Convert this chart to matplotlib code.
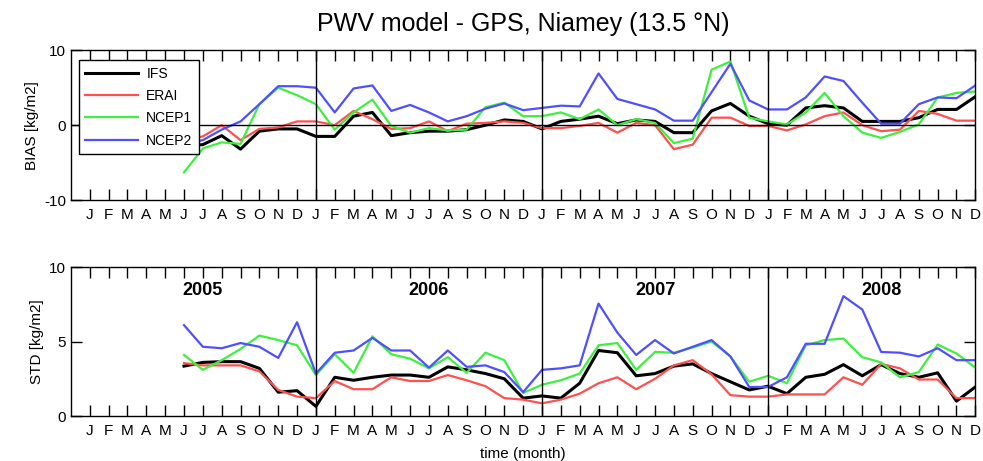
import matplotlib.pyplot as plt
import numpy as np

# months: 1 = Jan 2005 ... 48 = Dec 2008, data starts June 2005
months = np.arange(6, 49)
month_labels = list("JFMAMJJASOND") * 4
years = ["2005", "2006", "2007", "2008"]

bias_ifs = [-2.8, -2.6, -1.4, -3.2, -0.8, -0.5, -0.5, -1.5, -1.5, 1.2, 1.7, -1.4, -1.0, -0.8, -0.8, -0.6, 0.0,
            0.7, 0.5, -0.5, 0.5, 0.8, 1.2, 0.2, 0.7, 0.5, -1.0, -1.0, 1.9, 2.9, 1.2,
            0.2, 0.0, 2.3, 2.6, 2.3, 0.5, 0.5, 0.5, 1.0, 2.1, 2.1, 3.8]
bias_erai = [-2.0, -1.5, 0.0, -2.0, -0.5, -0.3, 0.5, 0.5, 0.0, 1.9, 0.8, -0.5, -0.4, 0.5, -0.8, 0.2, 0.3,
             0.5, 0.3, -0.4, -0.4, -0.1, 0.3, -1.0, 0.3, 0.0, -3.2, -2.6, 1.0, 1.0, -0.1,
             -0.1, -0.7, 0.1, 1.2, 1.7, 0.0, -0.8, -0.6, 1.9, 1.5, 0.6, 0.6]
bias_ncep1 = [-6.3, -3.1, -2.3, -2.5, 2.8, 5.0, 4.0, 2.8, -0.6, 1.7, 3.4, -0.1, -1.0, -0.4, -0.7, -0.6, 2.4,
              3.0, 1.2, 1.2, 1.7, 0.8, 2.1, 0.0, 0.8, 0.3, -2.4, -1.8, 7.4, 8.5, 1.0,
              0.5, 0.1, 1.7, 4.3, 1.2, -1.0, -1.7, -0.9, 0.1, 3.7, 4.3, 4.5]
bias_ncep2 = [-2.5, -2.0, -0.6, 0.5, 2.8, 5.2, 5.2, 5.0, 1.7, 4.9, 5.3, 1.9, 2.7, 1.7, 0.5, 1.2, 2.2,
              2.9, 2.0, 2.3, 2.6, 2.5, 6.9, 3.5, 2.8, 2.1, 0.6, 0.6, 4.4, 8.2, 3.3,
              2.1, 2.1, 3.7, 6.5, 5.9, 3.0, 0.2, 0.2, 2.8, 3.7, 3.6, 5.3]

std_ifs = [3.35, 3.6, 3.65, 3.65, 3.2, 1.6, 1.7, 0.65, 2.6, 2.4, 2.6, 2.75, 2.75, 2.6, 3.3, 3.1, 2.85,
           2.5, 1.2, 1.35, 1.2, 2.2, 4.4, 4.25, 2.7, 2.85, 3.35, 3.5, 2.85, 2.3, 1.75,
           2.0, 1.5, 2.6, 2.8, 3.45, 2.7, 3.45, 2.85, 2.6, 2.9, 1.0, 1.95]
std_erai = [3.55, 3.4, 3.4, 3.4, 3.0, 1.75, 1.3, 1.2, 2.35, 1.8, 1.8, 2.6, 2.35, 2.35, 2.75, 2.4, 2.0,
            1.2, 1.1, 0.85, 1.1, 1.5, 2.2, 2.6, 1.8, 2.5, 3.4, 3.75, 2.8, 1.4, 1.3,
            1.3, 1.45, 1.45, 1.45, 2.6, 2.1, 3.5, 3.2, 2.45, 2.45, 1.2, 1.2]
std_ncep1 = [4.1, 3.1, 3.75, 4.5, 5.4, 5.1, 4.75, 2.75, 4.15, 2.9, 5.35, 4.15, 3.85, 3.2, 3.95, 2.9, 4.25,
             3.75, 1.55, 2.1, 2.4, 2.85, 4.75, 4.9, 3.1, 4.3, 4.25, 4.6, 5.0, 4.0, 2.3,
             2.7, 2.2, 4.75, 5.1, 5.2, 3.95, 3.6, 2.6, 2.95, 4.8, 4.2, 3.25]
std_ncep2 = [6.1, 4.65, 4.55, 4.9, 4.65, 3.9, 6.3, 2.85, 4.25, 4.4, 5.25, 4.4, 4.4, 3.25, 4.4, 3.3, 3.4,
             2.95, 1.6, 3.1, 3.2, 3.4, 7.55, 5.6, 4.1, 5.1, 4.2, 4.65, 5.1, 4.0, 1.95,
             1.95, 2.6, 4.85, 4.85, 8.05, 7.15, 4.3, 4.25, 4.0, 4.55, 3.75, 3.75]

names = ["IFS", "ERAI", "NCEP1", "NCEP2"]
colors = ["black", "#ff5050", "#3fef3f", "#4f4fff"]
widths = [2.2, 1.6, 1.6, 1.6]

plt.rcParams['font.family'] = ['Liberation Sans', 'DejaVu Sans']
plt.rcParams['axes.unicode_minus'] = False

fig = plt.figure(figsize=(9.83, 4.61), dpi=100)
ax1 = fig.add_axes([0.0722, 0.566, 0.920, 0.325])
ax2 = fig.add_axes([0.0722, 0.0976, 0.920, 0.323])


def style(ax, ylim, yticks, ylabel):
    ax.set_xlim(0, 48)
    ax.set_ylim(ylim)
    ax.set_xticks(np.arange(1, 49))
    ax.set_xticklabels(month_labels, fontsize=11)
    ax.set_yticks(yticks)
    ax.tick_params(axis='both', direction='in', length=8, width=1, labelsize=11,
                   top=True, right=True)
    ax.tick_params(axis='x', pad=6)
    ax.set_ylabel(ylabel, fontsize=11, labelpad=4)
    for x in [13, 25, 37]:
        ax.axvline(x, color='black', lw=1)
    for s in ax.spines.values():
        s.set_linewidth(1)


bias = [bias_ifs, bias_erai, bias_ncep1, bias_ncep2]
std = [std_ifs, std_erai, std_ncep1, std_ncep2]

for name, vals, c, w in zip(names, bias, colors, widths):
    ax1.plot(months, vals, color=c, lw=w, label=name)
ax1.axhline(0, color='black', lw=1)
style(ax1, (-10, 10), [-10, 0, 10], "BIAS [kg/m2]")
leg = ax1.legend(loc='upper left', bbox_to_anchor=(0.0088, 0.933), borderaxespad=0,
                 fontsize=10, fancybox=False, edgecolor='black', framealpha=1,
                 handlelength=3.8, handletextpad=0.6, borderpad=0.45, labelspacing=0.6)
leg.get_frame().set_linewidth(1)
leg.set_zorder(5)

for name, vals, c, w in zip(names, std, colors, widths):
    ax2.plot(months, vals, color=c, lw=w)
style(ax2, (0, 10), [0, 5, 10], "STD [kg/m2]")
for k, yr in enumerate(years):
    ax2.text(7 + 12 * k, 8.4, yr, ha='center', va='center', fontsize=13, fontweight='bold')
ax2.set_xlabel("time (month)", fontsize=11, labelpad=6)

fig.suptitle("PWV model - GPS, Niamey (13.5 °N)", x=0.532, y=0.975, fontsize=18)

fig.savefig("out.png", dpi=100)
